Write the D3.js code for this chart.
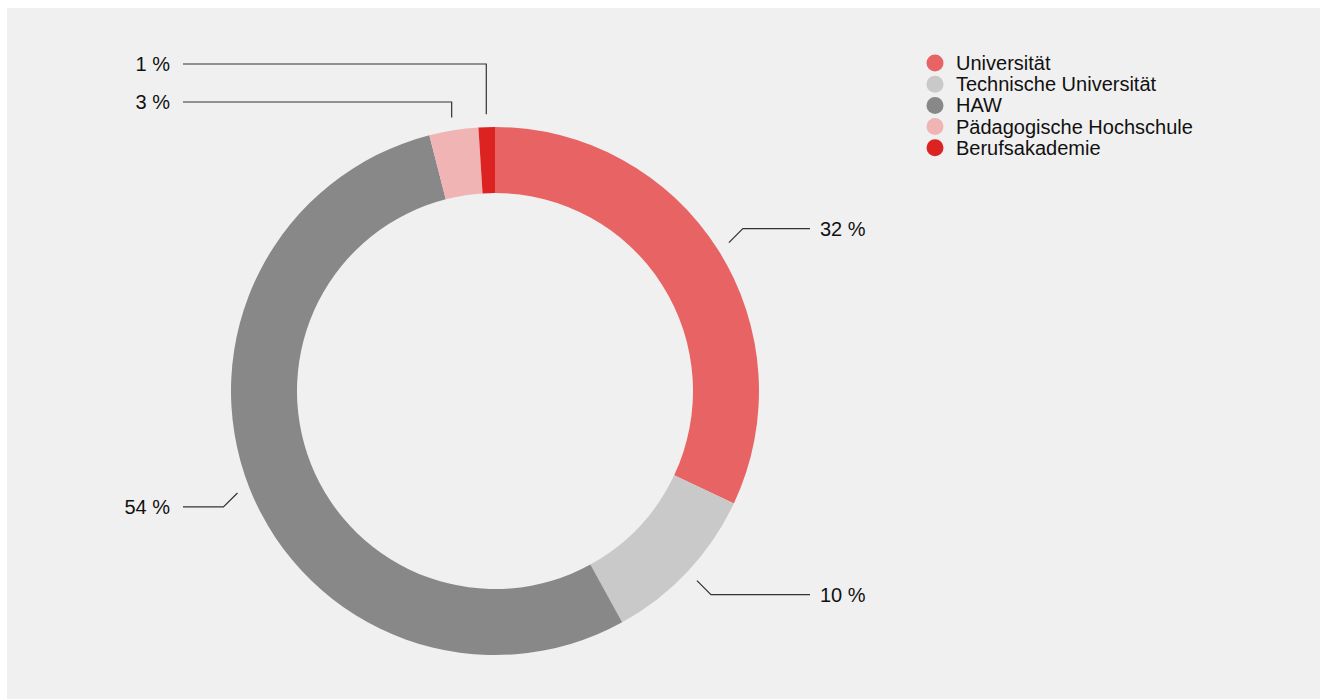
<!DOCTYPE html>
<html>
<head>
<meta charset="utf-8">
<script src="https://cdn.jsdelivr.net/npm/d3@7"></script>
<style>
  body { margin: 0; background: #fff; }
  svg { display: block; font-family: "Liberation Sans", Arial, Helvetica, sans-serif; }
</style>
</head>
<body>
<div id="chart"></div>
<script>
// data
const categories = ["Universität", "Technische Universität", "HAW", "Pädagogische Hochschule", "Berufsakademie"];
const shares = [32, 10, 54, 3, 1];
const colors = ["#e86464", "#c9c9c9", "#888888", "#f0b4b4", "#dd2222"];
const labels = ["32 %", "10 %", "54 %", "3 %", "1 %"];

const width = 1322, height = 699;
const cx = 495, cy = 391,
    outerR = 264, innerR = 198;

const svg = d3.select("#chart")
  .append("svg")
    .attr("width", width)
    .attr("height", height);

// grey panel
svg.append("rect")
  .attr("x", 7).attr("y", 8)
  .attr("width", width - 9).attr("height", height - 8)
  .attr("fill", "#f0f0f0");

const pie = d3.pie().sort(null).value(d => d)(shares);
const arc = d3.arc().innerRadius(innerR).outerRadius(outerR);

const g = svg.append("g")
  .attr("transform", "translate(" + cx + "," + cy + ")");

g.selectAll("path.slice")
  .data(pie)
  .enter()
  .append("path")
    .attr("class", "slice")
    .attr("d", arc)
    .attr("fill", (d, i) => colors[i]);

// leader lines + labels
const startArc = d3.arc().innerRadius(277).outerRadius(277);
// small slices near the top get stacked labels on the left
const topOrder = pie.map((d, i) => i).filter(i => shares[i] < 5);

pie.forEach((d, i) => {
  const mid = (d.startAngle + d.endAngle) / 2;
  const s = startArc.centroid(d);
  let pts, tx, ty, anchor;
  if (shares[i] < 5) {
    const k = topOrder.indexOf(i);
    const ly = -outerR - 25 - k * 38;
    pts = [s, [s[0], ly], [183 - cx, ly]];
    tx = 170 - cx; ty = ly; anchor = "end";
  } else {
    const right = Math.sin(mid) > 0;
    const e = [s[0] + (right ? 14 : -14), s[1] + (Math.cos(mid) > 0 ? -14 : 14)];
    const endX = right ? 810 - cx : 183 - cx;
    pts = [s, e, [endX, e[1]]];
    tx = right ? 820 - cx : 170 - cx;
    ty = e[1]; anchor = right ? "start" : "end";
  }
  g.append("path")
    .attr("d", d3.line()(pts))
    .attr("fill", "none")
    .attr("stroke", "#333")
    .attr("stroke-width", 1.2);
  g.append("text")
    .attr("x", tx).attr("y", ty)
    .attr("dy", "0.35em")
    .attr("text-anchor", anchor)
    .style("font-size", "20px")
    .style("fill", "#111")
    .text(labels[i]);
});

// legend
const legend = svg.append("g")
  .attr("transform", "translate(935,63)");

const row = legend.selectAll("g.item")
  .data(categories)
  .enter()
  .append("g")
    .attr("class", "item")
    .attr("transform", (d, i) => "translate(0," + i * 21.2 + ")");

row.append("circle")
  .attr("r", 8.5)
  .attr("fill", (d, i) => colors[i]);

row.append("text")
  .attr("x", 21)
  .attr("dy", "0.35em")
  .style("font-size", "20px")
  .style("fill", "#111")
  .text(d => d);
</script>
</body>
</html>
